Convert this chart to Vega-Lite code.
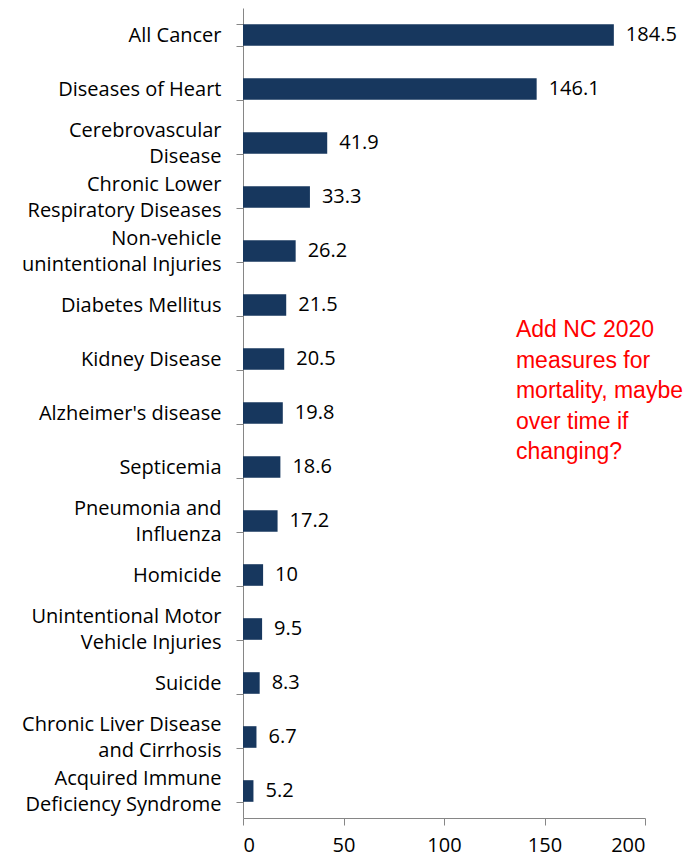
{
  "$schema": "https://vega.github.io/schema/vega-lite/v6.json",
  "width": 402,
  "height": 810,
  "autosize": {"type": "none"},
  "padding": {"left": 243, "top": 8, "right": 40, "bottom": 40},
  "background": "white",
  "config": {"view": {"stroke": null}, "font": "Open Sans"},
  "datasets": {
    "causes": [
      {"cause": "All Cancer", "rate": 184.5},
      {"cause": "Diseases of Heart", "rate": 146.1},
      {"cause": "Cerebrovascular|Disease", "rate": 41.9},
      {"cause": "Chronic Lower|Respiratory Diseases", "rate": 33.3},
      {"cause": "Non-vehicle|unintentional Injuries", "rate": 26.2},
      {"cause": "Diabetes Mellitus", "rate": 21.5},
      {"cause": "Kidney Disease", "rate": 20.5},
      {"cause": "Alzheimer's disease", "rate": 19.8},
      {"cause": "Septicemia", "rate": 18.6},
      {"cause": "Pneumonia and|Influenza", "rate": 17.2},
      {"cause": "Homicide", "rate": 10},
      {"cause": "Unintentional Motor|Vehicle Injuries", "rate": 9.5},
      {"cause": "Suicide", "rate": 8.3},
      {"cause": "Chronic Liver Disease|and Cirrhosis", "rate": 6.7},
      {"cause": "Acquired Immune|Deficiency Syndrome", "rate": 5.2}
    ],
    "note": [
      {"note": "Add NC 2020|measures for|mortality, maybe|over time if|changing?", "rate": 135.8, "cause": "Kidney Disease"}
    ]
  },
  "layer": [
    {
      "data": {"name": "causes"},
      "mark": {"type": "bar", "color": "#17375E"},
      "encoding": {
        "y": {
          "field": "cause", "type": "nominal", "sort": null,
          "scale": {"paddingInner": 0.6, "paddingOuter": 0.3},
          "axis": {
            "title": null, "domainColor": "#868686", "tickColor": "#868686",
            "tickSize": 7, "tickBand": "extent", "labelFontSize": 20,
            "labelColor": "#000000", "labelPadding": 15, "labelLimit": 400,
            "labelExpr": "split(datum.label, '|')", "labelLineHeight": 26,
            "labelFont": "Open Sans",
            "labelOffset": {"condition": {"test": "length(split(datum.label, '|')) > 1", "value": -13}, "value": 0}
          }
        },
        "x": {
          "field": "rate", "type": "quantitative",
          "scale": {"domain": [0, 200], "nice": false},
          "axis": {
            "title": null, "values": [0, 50, 100, 150, 200], "grid": false,
            "domainColor": "#868686", "tickColor": "#868686", "tickSize": 7,
            "labelFontSize": 20, "labelColor": "#000000", "labelPadding": 10,
            "labelFont": "Open Sans"
          }
        }
      }
    },
    {
      "data": {"name": "causes"},
      "mark": {"type": "text", "align": "left", "baseline": "middle", "dx": 12, "fontSize": 20, "font": "Open Sans", "color": "#000000"},
      "encoding": {
        "y": {"field": "cause", "type": "nominal", "sort": null},
        "x": {"field": "rate", "type": "quantitative"},
        "text": {"field": "rate", "type": "quantitative"}
      }
    },
    {
      "data": {"name": "note"},
      "transform": [{"calculate": "split(datum.note, '|')", "as": "lines"}],
      "mark": {"type": "text", "align": "left", "baseline": "middle", "dy": -29, "fontSize": 23, "font": "Liberation Sans", "color": "#FF0000", "lineHeight": 30.5},
      "encoding": {
        "y": {"field": "cause", "type": "nominal", "sort": null},
        "x": {"field": "rate", "type": "quantitative"},
        "text": {"field": "lines"}
      }
    }
  ]
}
